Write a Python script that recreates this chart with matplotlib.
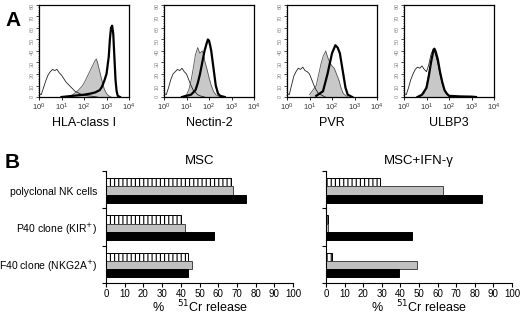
import numpy as np
import matplotlib
matplotlib.use('Agg')
import matplotlib.pyplot as plt
from matplotlib.ticker import MultipleLocator, FixedLocator

plt.rcParams['font.family'] = ['Liberation Sans', 'DejaVu Sans']
plt.rcParams['hatch.linewidth'] = 0.8

# ---- panel A: flow histograms (log10 intensity, counts) ----
markers = ['HLA-class I', 'Nectin-2', 'PVR', 'ULBP3']

iso_x = [
    [0.0, 0.02, 0.1, 0.2, 0.3, 0.4, 0.5, 0.6, 0.7, 0.8, 0.9, 1.0, 1.1, 1.2, 1.3, 1.4, 1.5, 1.6, 1.7, 1.8, 1.9, 2.0, 2.2, 2.4, 2.6],
    [0.0, 0.02, 0.1, 0.2, 0.3, 0.4, 0.5, 0.6, 0.7, 0.8, 0.9, 1.0, 1.1, 1.2, 1.3, 1.4, 1.5, 1.6, 1.8],
    [0.0, 0.02, 0.1, 0.2, 0.3, 0.4, 0.5, 0.6, 0.7, 0.8, 0.9, 1.0, 1.1, 1.2, 1.3, 1.4, 1.5, 1.7],
    [0.0, 0.02, 0.1, 0.2, 0.3, 0.4, 0.5, 0.6, 0.7, 0.8, 0.9, 1.0, 1.1, 1.2, 1.3, 1.4, 1.5, 1.6, 1.7, 1.8, 1.9, 2.0, 2.2],
]
iso_y = [
    [10, 3, 2, 8, 14, 19, 22, 24, 23, 24, 21, 19, 16, 13, 11, 9, 7, 5, 4, 3, 2, 1.5, 1, 0.5, 0],
    [10, 3, 2, 8, 15, 20, 22, 24, 23, 25, 22, 20, 15, 10, 6, 4, 2, 1, 0],
    [12, 3, 2, 10, 18, 22, 25, 24, 26, 23, 22, 20, 15, 10, 6, 3, 2, 0],
    [10, 3, 2, 8, 15, 20, 24, 26, 25, 27, 24, 22, 28, 37, 42, 38, 30, 20, 12, 6, 3, 1, 0],
]
msc_x = [
    [1.3, 1.5, 1.7, 1.9, 2.0, 2.1, 2.2, 2.3, 2.4, 2.5, 2.55, 2.6, 2.7, 2.8, 2.9, 3.0, 3.1, 3.2],
    [0.8, 1.0, 1.1, 1.2, 1.3, 1.4, 1.5, 1.55, 1.6, 1.7, 1.75, 1.8, 1.9, 2.0, 2.1, 2.2, 2.3, 2.5],
    [1.0, 1.3, 1.5, 1.6, 1.72, 1.8, 1.9, 2.0, 2.1, 2.2, 2.3, 2.4, 2.5, 2.7],
    [0.7, 0.9, 1.0, 1.1, 1.2, 1.3, 1.35, 1.4, 1.5, 1.6, 1.7, 1.8, 1.9, 2.0, 2.2],
]
msc_y = [
    [0, 2, 5, 9, 12, 16, 20, 24, 28, 32, 33, 30, 22, 14, 7, 3, 1, 0],
    [0, 2, 6, 14, 25, 37, 43, 40, 38, 40, 38, 32, 25, 17, 10, 5, 2, 0],
    [2, 10, 28, 35, 40, 35, 30, 27, 25, 20, 15, 8, 3, 0],
    [0, 3, 10, 20, 30, 38, 40, 37, 30, 20, 12, 6, 3, 1, 0],
]
ifn_x = [
    [1.0, 1.5, 2.0, 2.3, 2.5, 2.7, 2.8, 2.9, 3.0, 3.1, 3.15, 3.2, 3.25, 3.3, 3.35, 3.4, 3.45, 3.5, 3.6],
    [0.8, 1.0, 1.2, 1.4, 1.5, 1.6, 1.7, 1.8, 1.9, 1.95, 2.0, 2.05, 2.1, 2.2, 2.3, 2.4, 2.5, 2.7],
    [1.3, 1.6, 1.8, 2.0, 2.15, 2.25, 2.35, 2.5, 2.6, 2.7, 2.9],
    [0.6, 0.8, 1.0, 1.1, 1.2, 1.3, 1.35, 1.4, 1.5, 1.6, 1.7, 1.8, 1.9, 2.0, 2.5, 3.0, 3.2],
]
ifn_y = [
    [0, 1, 2, 3, 4, 6, 9, 14, 20, 35, 50, 60, 62, 55, 35, 15, 5, 1, 0],
    [0, 1, 2, 6, 12, 20, 30, 40, 47, 50, 49, 45, 40, 25, 10, 3, 1, 0],
    [1, 5, 20, 38, 45, 43, 38, 20, 8, 2, 0],
    [0, 2, 8, 18, 30, 40, 42, 40, 33, 22, 13, 6, 3, 1, 0.5, 0.3, 0],
]

# ---- panel B: cytotoxicity ----
effectors = ['polyclonal NK cells', 'P40 clone (KIR$^{+}$)', 'F40 clone (NKG2A$^{+}$)']
msc_striped = [67, 40, 44]
msc_gray = [68, 42, 46]
msc_black = [75, 58, 44]
ifn_striped = [29, 1, 3]
ifn_gray = [63, 1, 49]
ifn_black = [84, 46, 39]

W, H = 520, 315
fig = plt.figure(figsize=(W / 100, H / 100), dpi=100)


def ax_px(l, t, r, b):
    return fig.add_axes([l / W, 1 - b / H, (r - l) / W, (b - t) / H])


lefts = [39, 164, 287, 404]
for i in range(4):
    ax = ax_px(lefts[i], 5, lefts[i] + 90, 97)
    gx = 10 ** np.array(msc_x[i])
    ax.fill_between(gx, msc_y[i], color='#c8c8c8', lw=0)
    ax.plot(gx, msc_y[i], color='#555555', lw=0.6)
    ax.plot(10 ** np.array(iso_x[i]), iso_y[i], color='#222222', lw=0.6)
    ax.plot(10 ** np.array(ifn_x[i]), ifn_y[i], color='black', lw=1.6)
    ax.set_xscale('log')
    ax.set_xlim(1, 1e4)
    ax.set_ylim(0, 80)
    ax.xaxis.set_major_locator(FixedLocator([1, 10, 100, 1000, 10000]))
    ax.xaxis.set_minor_locator(FixedLocator([]))
    ax.yaxis.set_major_locator(MultipleLocator(10))
    ax.yaxis.set_minor_locator(MultipleLocator(2))
    ax.tick_params(axis='x', labelsize=5.5, length=2, width=0.6, pad=1.5, labelcolor='#333333')
    ax.tick_params(axis='y', labelsize=4, length=2, width=0.5, pad=1, labelcolor='#888888',
                   labelrotation=90)
    ax.tick_params(which='minor', length=1, width=0.4)
    for s in ax.spines.values():
        s.set_linewidth(0.9)
    ax.set_xlabel(markers[i], fontsize=9, labelpad=3)

fig.text(5 / W, 1 - 26 / H, 'A', fontsize=15, fontweight='bold')
fig.text(5 / W, 1 - 168 / H, 'B', fontsize=15, fontweight='bold')

pos = np.arange(3)
h = 0.22
panels = [
    (106, 293, 'MSC', msc_striped, msc_gray, msc_black),
    (326, 512, 'MSC+IFN-γ', ifn_striped, ifn_gray, ifn_black),
]
for l, r, title, s, g, b in panels:
    ax = ax_px(l, 171, r, 283)
    ax.barh(pos + 0.30, s, height=h, color='white', edgecolor='black', hatch='||||', lw=0.7)
    ax.barh(pos + 0.52, g, height=h, color='#c0c0c0', edgecolor='#444444', lw=0.7)
    ax.barh(pos + 0.74, b, height=h, color='black', edgecolor='black', lw=0.7)
    ax.set_xlim(0, 100)
    ax.set_ylim(3, 0)
    ax.set_yticks([0, 1, 2, 3])
    ax.set_yticklabels([])
    ax.set_xticks(np.arange(0, 101, 10))
    ax.tick_params(axis='both', length=3, width=0.8, labelsize=7, pad=1.5)
    ax.spines['top'].set_visible(False)
    ax.spines['right'].set_visible(False)
    ax.spines['left'].set_linewidth(0.8)
    ax.spines['bottom'].set_linewidth(0.8)
    ax.set_title(title, fontsize=9.5, pad=5)
    fig.text((l + r) / 2 / W, 1 - 312 / H, '%    $^{51}$Cr release', fontsize=9,
             ha='center', va='baseline')
    if l == 106:
        for k, name in enumerate(effectors):
            ax.text(-0.045, 1 - (k + 0.56) / 3, name, transform=ax.transAxes,
                    ha='right', va='center', fontsize=7.5)

fig.savefig('out.png', dpi=100)
